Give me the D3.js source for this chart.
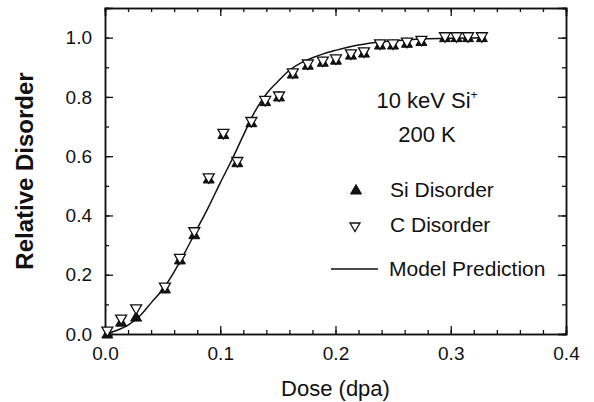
<!DOCTYPE html>
<html>
<head>
<meta charset="utf-8">
<script src="https://cdn.jsdelivr.net/npm/d3@7"></script>
<style>
  body { margin: 0; background: #fff; }
  text { font-family: "Liberation Sans", Arial, sans-serif; fill: #111; }
</style>
</head>
<body>
<div id="chart"></div>
<script>
// Dose values (dpa) of the measured points
var doses = [0.002, 0.014, 0.027, 0.052, 0.065, 0.0775, 0.09, 0.1027, 0.1148, 0.127, 0.139, 0.151, 0.163,
  0.176, 0.189, 0.2004, 0.2134, 0.2247, 0.2386, 0.2499, 0.262, 0.2745, 0.295, 0.305, 0.315, 0.327];
// Si disorder (filled up triangles)
var siDisorder = [0.0, 0.04, 0.057, 0.152, 0.25, 0.335, 0.523, 0.673, 0.578, 0.713, 0.784, 0.8, 0.877,
  0.907, 0.917, 0.924, 0.941, 0.948, 0.975, 0.975, 0.981, 0.987, 1.0, 1.0, 1.0, 1.0];
// C disorder (open down triangles)
var cDisorder = [0.01, 0.05, 0.085, 0.158, 0.255, 0.345, 0.527, 0.677, 0.582, 0.717, 0.788, 0.803, 0.881,
  0.911, 0.921, 0.928, 0.945, 0.952, 0.979, 0.979, 0.985, 0.991, 1.003, 1.003, 1.003, 1.003];

// Model prediction curve
var modelDose = [0, 0.01, 0.02, 0.03, 0.04, 0.05, 0.06, 0.07, 0.08, 0.09, 0.1, 0.11, 0.12, 0.13, 0.14,
  0.15, 0.16, 0.17, 0.18, 0.19, 0.2, 0.22, 0.24, 0.26, 0.28, 0.3, 0.33];
var modelValue = [0, 0.012, 0.03, 0.06, 0.105, 0.15, 0.21, 0.28, 0.355, 0.43, 0.51, 0.587, 0.67, 0.75, 0.81,
  0.852, 0.89, 0.915, 0.932, 0.946, 0.957, 0.975, 0.986, 0.992, 0.996, 0.998, 1.0];

var xTicks = [0, 0.1, 0.2, 0.3, 0.4];
var yTicks = [0, 0.2, 0.4, 0.6, 0.8, 1.0];

// SVG area
var svgWidth = 594;
var svgHeight = 402;
var margin = { top: 8, right: 28, bottom: 68, left: 105 };
var chartWidth = svgWidth - margin.left - margin.right;
var chartHeight = svgHeight - margin.top - margin.bottom;

var svg = d3.select("#chart")
  .append("svg")
  .attr("width", svgWidth)
  .attr("height", svgHeight);

var chartGroup = svg.append("g")
  .attr("transform", `translate(${margin.left}, ${margin.top})`);

var xScale = d3.scaleLinear().domain([0, 0.4]).range([0, chartWidth]);
var yScale = d3.scaleLinear().domain([0, 1.1]).range([chartHeight, 0]);

// major + minor inward ticks on all four sides
function frameAxis(axis, transform, major, minor, labels) {
  var g1 = chartGroup.append("g").attr("transform", transform)
    .call(axis.tickValues(minor).tickSize(-4).tickFormat(""));
  var g2 = chartGroup.append("g").attr("transform", transform)
    .call(axis.tickValues(major).tickSize(-8).tickPadding(labels ? 13 : 0)
      .tickFormat(labels ? d3.format(".1f") : ""));
  [g1, g2].forEach(function(g) {
    g.select(".domain").attr("stroke", "#111").attr("stroke-width", 1.5);
    g.selectAll(".tick line").attr("stroke", "#111").attr("stroke-width", 1.3);
    g.selectAll("text").style("font-size", "19px");
  });
}
var xMinor = d3.range(0, 0.401, 0.02);
var yMinor = d3.range(0, 1.101, 0.1);
frameAxis(d3.axisBottom(xScale), `translate(0, ${chartHeight})`, xTicks, xMinor, true);
frameAxis(d3.axisTop(xScale), "translate(0, 0)", xTicks, xMinor, false);
frameAxis(d3.axisLeft(yScale), "translate(0, 0)", yTicks, yMinor, true);
frameAxis(d3.axisRight(yScale), `translate(${chartWidth}, 0)`, yTicks, yMinor, false);

// model line
var line = d3.line()
  .x(function(d, i) { return xScale(modelDose[i]); })
  .y(function(d) { return yScale(d); })
  .curve(d3.curveMonotoneX);
chartGroup.append("path")
  .datum(modelValue)
  .attr("d", line)
  .attr("fill", "none")
  .attr("stroke", "#111")
  .attr("stroke-width", 1.5);

var upTri = "M0,-5.5L5.5,4L-5.5,4Z";
var downTri = "M0,5.5L5.5,-4L-5.5,-4Z";

// Si points
chartGroup.selectAll(".si")
  .data(siDisorder)
  .enter()
  .append("path")
  .attr("class", "si")
  .attr("d", upTri)
  .attr("transform", function(d, i) { return `translate(${xScale(doses[i])}, ${yScale(d)})`; })
  .attr("fill", "#111")
  .attr("stroke", "#111")
  .attr("stroke-width", 1);

// C points
chartGroup.selectAll(".c")
  .data(cDisorder)
  .enter()
  .append("path")
  .attr("class", "c")
  .attr("d", downTri)
  .attr("transform", function(d, i) { return `translate(${xScale(doses[i])}, ${yScale(d)})`; })
  .attr("fill", "#fff")
  .attr("stroke", "#111")
  .attr("stroke-width", 1.3);

// annotation
var note = svg.append("text")
  .attr("x", 427)
  .attr("y", 108)
  .attr("text-anchor", "middle")
  .style("font-size", "22px");
note.append("tspan").text("10 keV Si");
note.append("tspan").attr("dy", -9).style("font-size", "12px").text("+");
svg.append("text")
  .attr("x", 427)
  .attr("y", 142)
  .attr("text-anchor", "middle")
  .style("font-size", "22px")
  .text("200 K");

// legend
svg.append("path").attr("d", upTri).attr("transform", "translate(356, 190)")
  .attr("fill", "#111").attr("stroke", "#111");
svg.append("text").attr("x", 390).attr("y", 197).style("font-size", "21px").text("Si Disorder");
svg.append("path").attr("d", "M0,4.5L5,-4L-5,-4Z").attr("transform", "translate(355, 227)")
  .attr("fill", "#fff").attr("stroke", "#111").attr("stroke-width", 1.3);
svg.append("text").attr("x", 390).attr("y", 232).style("font-size", "21px").text("C Disorder");
svg.append("line").attr("x1", 331).attr("x2", 378).attr("y1", 269).attr("y2", 269)
  .attr("stroke", "#111").attr("stroke-width", 1.3);
svg.append("text").attr("x", 389).attr("y", 276).style("font-size", "21px").text("Model Prediction");

// axis titles
svg.append("text")
  .attr("x", margin.left + chartWidth / 2)
  .attr("y", 396)
  .attr("text-anchor", "middle")
  .style("font-size", "22px")
  .text("Dose (dpa)");
svg.append("text")
  .attr("transform", "translate(33, 171) rotate(-90)")
  .attr("text-anchor", "middle")
  .style("font-size", "24px")
  .style("font-weight", "bold")
  .text("Relative Disorder");
</script>
</body>
</html>
